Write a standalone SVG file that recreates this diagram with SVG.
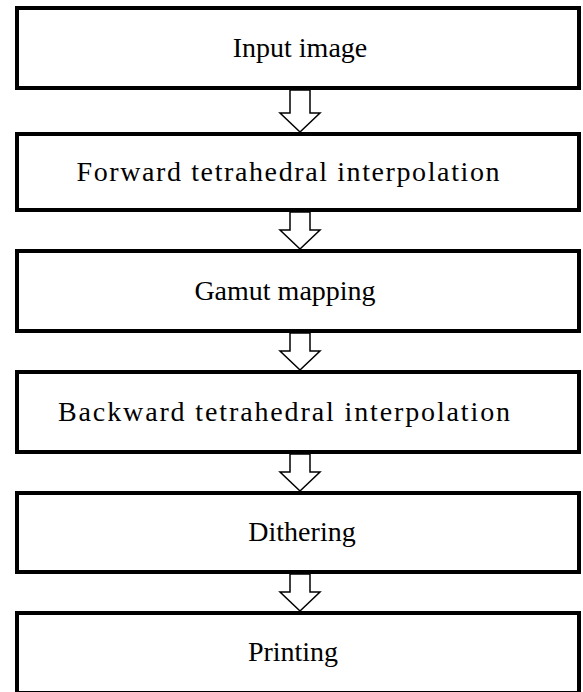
<svg xmlns="http://www.w3.org/2000/svg" width="583" height="692" viewBox="0 0 583 692">
<style>
.box{fill:#fff;stroke:#000;stroke-width:4}
.lbl{font-family:"Liberation Serif","Times New Roman",serif;font-size:28px;fill:#000;text-anchor:middle}
.arr{fill:#fff;stroke:#000;stroke-width:1.5;stroke-linejoin:miter}
</style>
<rect width="583" height="692" fill="#fff"/>
<g id="n1"><rect class="box" x="17" y="8" width="562" height="80"/><text class="lbl" x="300" y="57">Input image</text></g>
<g id="n2"><rect class="box" x="17" y="134" width="562" height="76"/><text class="lbl" x="288" y="181" textLength="423" lengthAdjust="spacing">Forward tetrahedral interpolation</text></g>
<g id="n3"><rect class="box" x="17" y="251" width="562" height="80"/><text class="lbl" x="285" y="300">Gamut mapping</text></g>
<g id="n4"><rect class="box" x="17" y="372" width="562" height="80"/><text class="lbl" x="284" y="421" textLength="452" lengthAdjust="spacing">Backward tetrahedral interpolation</text></g>
<g id="n5"><rect class="box" x="17" y="493" width="562" height="79"/><text class="lbl" x="302" y="541">Dithering</text></g>
<g id="n6"><rect class="box" x="17" y="613" width="562" height="80"/><text class="lbl" x="293" y="661">Printing</text></g>
<g id="connectors">
<polygon class="arr" points="290,90 290,113 280,113 300,132 320,113 310,113 310,90"/>
<polygon class="arr" points="290,212 290,230 280,230 300,249 320,230 310,230 310,212"/>
<polygon class="arr" points="290,333 290,351 280,351 300,370 320,351 310,351 310,333"/>
<polygon class="arr" points="290,454 290,472 280,472 300,491 320,472 310,472 310,454"/>
<polygon class="arr" points="290,574 290,592 280,592 300,611 320,592 310,592 310,574"/>
</g>
</svg>
